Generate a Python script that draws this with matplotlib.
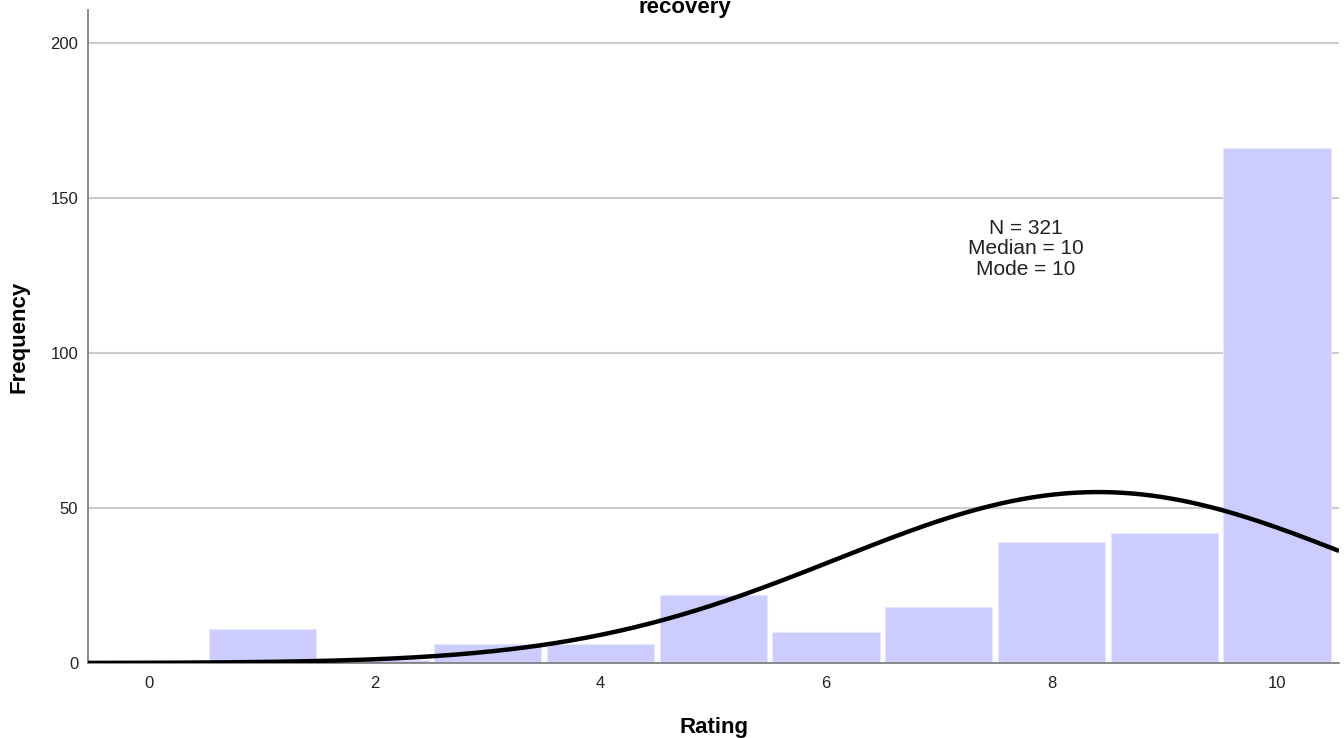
import numpy as np
import matplotlib.pyplot as plt

plt.rcParams['font.family'] = ['Liberation Sans', 'DejaVu Sans']

# Rating histogram counts (bin width 1)
ratings = [0, 1, 2, 3, 4, 5, 6, 7, 8, 9, 10]
counts = [0, 11, 1, 6, 6, 22, 10, 18, 39, 42, 166]

x_ticks = [0, 2, 4, 6, 8, 10]
y_ticks = [0, 50, 100, 150, 200]

stats_text = "N = 321\nMedian = 10\nMode = 10"


def normal_curve(values, freqs, xs):
    """Expected counts of a normal fit with the sample mean and sd."""
    values = np.asarray(values, dtype=float)
    freqs = np.asarray(freqs, dtype=float)
    n = freqs.sum()
    mean = np.sum(values * freqs) / n
    var = np.sum(freqs * (values - mean) ** 2) / (n - 1)
    sd = np.sqrt(var)
    return n / (sd * np.sqrt(2 * np.pi)) * np.exp(-0.5 * ((xs - mean) / sd) ** 2)


fig = plt.figure(figsize=(13.44, 7.38), dpi=100)
ax = fig.add_axes([0.0655, 0.1016, 0.9308, 0.8848])

ax.set_axisbelow(True)
ax.yaxis.grid(True, color='#cccccc', linewidth=1.5)

ax.bar(ratings, counts, width=0.95, color='#ccccff', edgecolor='#e6e6ff',
       linewidth=0.8, zorder=2)

xlim = (-0.545, 10.55)
xs = np.linspace(xlim[0], xlim[1], 400)
ax.plot(xs, normal_curve(ratings, counts, xs), color='black', lw=3.2, zorder=3,
        solid_capstyle='butt')

ax.set_xlim(*xlim)
ax.set_ylim(0, 210.5)
ax.set_xticks(x_ticks)
ax.set_yticks(y_ticks)
ax.tick_params(axis='both', length=0, labelsize=12, colors='#222222')
ax.tick_params(axis='x', pad=9)
ax.tick_params(axis='y', pad=7)

for side in ['top', 'right']:
    ax.spines[side].set_visible(False)
for side in ['left', 'bottom']:
    ax.spines[side].set_color('#777777')
    ax.spines[side].set_linewidth(1.2)

ax.set_xlabel("Rating", fontsize=16, fontweight='bold', labelpad=19)
ax.set_ylabel("Frequency", fontsize=16, fontweight='bold', labelpad=15)

ax.text(7.77, 133.5, stats_text, ha='center', va='center', fontsize=15,
        color='#222222', linespacing=1.08)

fig.text(685 / 1344, 1 - 7 / 738, "recovery", ha='center', va='center',
         fontsize=16, fontweight='bold')

fig.savefig("out.png", dpi=100)
